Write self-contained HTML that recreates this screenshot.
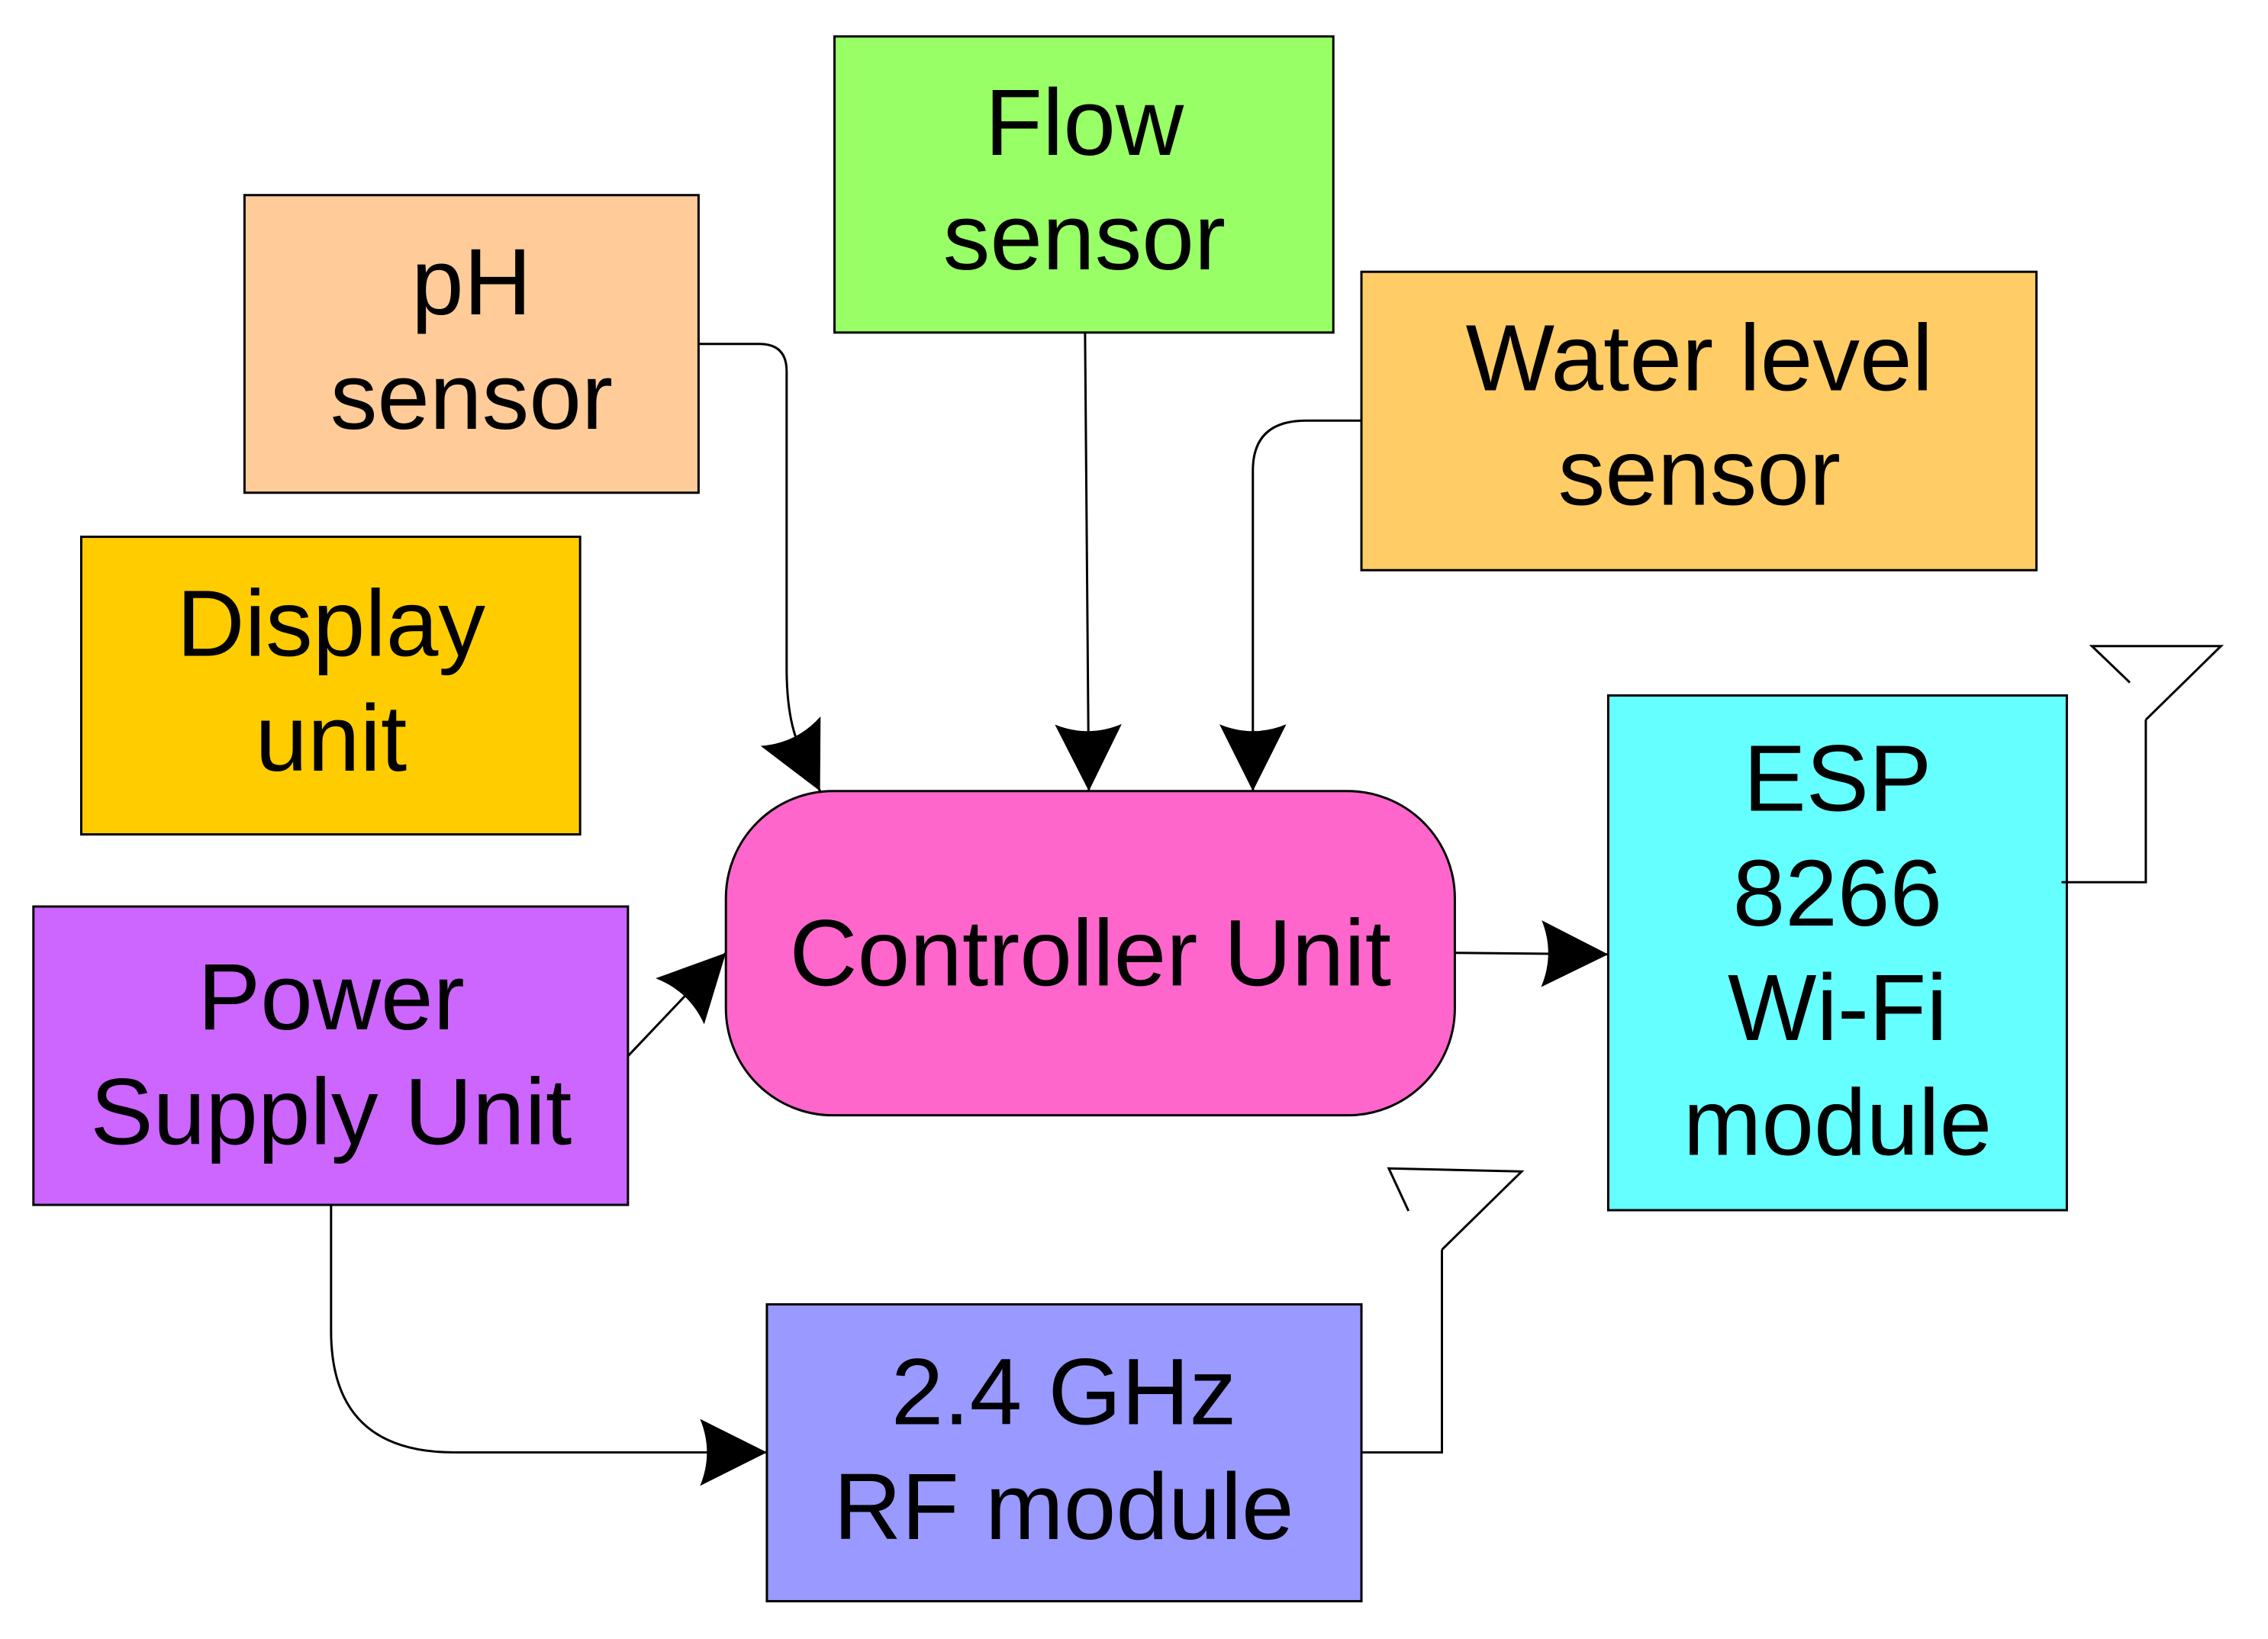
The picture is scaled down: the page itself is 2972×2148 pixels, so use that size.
<!DOCTYPE html>
<html><head><meta charset="utf-8"><style>
html,body{margin:0;padding:0;background:#fff;}
svg{display:block;}
text{font-family:"Liberation Sans",sans-serif;font-size:124px;fill:#000;text-anchor:middle;}
</style></head><body>
<svg width="2972" height="2148" viewBox="0 0 2972 2148" xmlns="http://www.w3.org/2000/svg">
<defs>
<marker id="a" markerUnits="userSpaceOnUse" markerWidth="10" markerHeight="10" refX="0" refY="0" orient="auto" overflow="visible">
<path d="M0,0 L-88,-44 Q-70,0 -88,44 Z" fill="#000"/>
</marker>
</defs>
<g transform="scale(0.995)">
<g stroke="#000" stroke-width="3">
<rect x="322" y="257" width="598" height="392" fill="#FFCC99"/>
<rect x="1099" y="48" width="657" height="390" fill="#99FF66"/>
<rect x="1793" y="358" width="889" height="393" fill="#FFCC66"/>
<rect x="107" y="707" width="657" height="392" fill="#FFCC00"/>
<rect x="44" y="1194" width="783" height="393" fill="#CC66FF"/>
<rect x="956" y="1042" width="960" height="427" rx="141" ry="141" fill="#FF66CC"/>
<rect x="2118" y="916" width="604" height="678" fill="#66FFFF"/>
<rect x="1010" y="1718" width="783" height="391" fill="#9999FF"/>
</g>
<g stroke="#000" stroke-width="3" fill="none">
<path d="M920,453 H1000 Q1036,453 1036,489 V880 C1036,960 1052,985 1080,1042" marker-end="url(#a)"/>
<path d="M1429,438 L1434,1042" marker-end="url(#a)"/>
<path d="M1793,554 H1720 Q1650,554 1650,620 V1042" marker-end="url(#a)"/>
<path d="M827,1391 L956,1255" marker-end="url(#a)"/>
<path d="M1916,1255 L2118,1257" marker-end="url(#a)"/>
<path d="M436,1587 V1753 C436,1860 490,1913 598,1913 H1010" marker-end="url(#a)"/>
<path d="M1793,1913 H1899 V1646"/>
<path d="M1855,1595 L1829,1539 L2004,1543 L1899,1646"/>
<path d="M2715,1162 H2826 V948"/>
<path d="M2805,899 L2755,851 L2925,851 L2826,948"/>
</g>
<text x="621" y="414">pH</text>
<text x="621" y="565">sensor</text>
<text x="1428" y="204">Flow</text>
<text x="1428" y="355">sensor</text>
<text x="2238" y="514">Water level</text>
<text x="2238" y="665">sensor</text>
<text x="436" y="864">Display</text>
<text x="436" y="1015">unit</text>
<text x="436" y="1356">Power</text>
<text x="436" y="1507">Supply Unit</text>
<text x="1436" y="1298">Controller Unit</text>
<text x="2420" y="1068">ESP</text>
<text x="2420" y="1219">8266</text>
<text x="2420" y="1370">Wi-Fi</text>
<text x="2420" y="1521">module</text>
<text x="1401" y="1876">2.4 GHz</text>
<text x="1401" y="2027">RF module</text>
</g>
</svg>
</body></html>
